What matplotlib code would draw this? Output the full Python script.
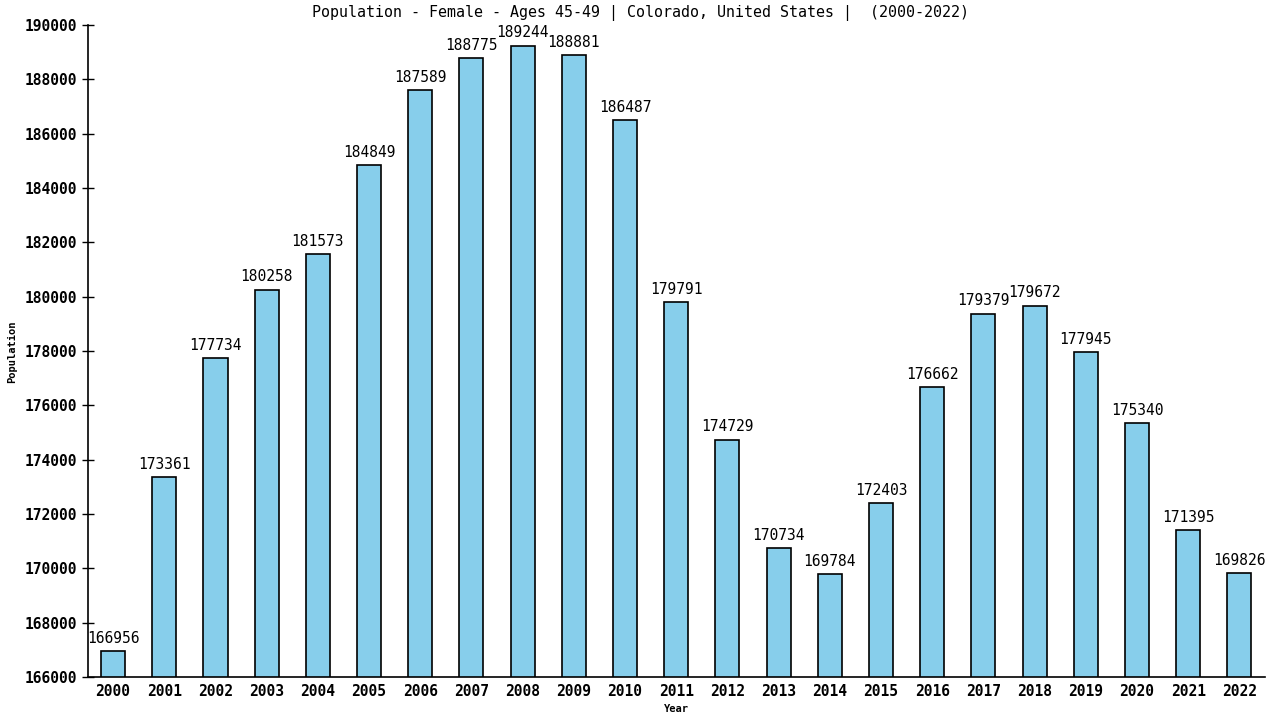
import matplotlib
matplotlib.use("Agg")
import matplotlib.pyplot as plt
import numpy as np

years = [str(y) for y in range(2000, 2023)]
values = [166956, 173361, 177734, 180258, 181573, 184849, 187589, 188775, 189244,
          188881, 186487, 179791, 174729, 170734, 169784, 172403, 176662, 179379,
          179672, 177945, 175340, 171395, 169826]
yticks = list(range(166000, 190001, 2000))

plt.rcParams['font.family'] = ['DejaVu Sans Mono']

fig = plt.figure(figsize=(12.8, 7.2), dpi=100)
ax = fig.add_axes([88/1280, 1-677/720, (1265-88)/1280, (677-25)/720])

x = np.arange(len(years))
ax.bar(x, values, width=0.47, color='#87CEEB', edgecolor='black', linewidth=1.2, zorder=2)
for xi, v in zip(x, values):
    ax.text(xi, v + 200, str(v), ha='center', va='bottom', fontsize=10.5, color='black')

ax.set_ylim(166000, 190000)
ax.set_xlim(-0.49, 22.5)
ax.set_yticks(yticks)
ax.set_yticklabels([str(t) for t in yticks], fontsize=10.5, fontweight='bold')
ax.set_xticks(x)
ax.set_xticklabels(years, fontsize=10.5, fontweight='bold')
ax.tick_params(axis='y', direction='inout', length=8, width=1)
ax.tick_params(axis='x', length=0, pad=5)
for s in ['top', 'right']:
    ax.spines[s].set_visible(False)
for s in ['left', 'bottom']:
    ax.spines[s].set_linewidth(1.2)

fig.text(640/1280, 1-13/720, "Population - Female - Ages 45-49 | Colorado, United States |  (2000-2022)",
         ha='center', va='center', fontsize=10.8)
fig.text(12/1280, 1-352/720, "Population", rotation=90, ha='center', va='center',
         fontsize=7.5, fontweight='bold')
fig.text(676/1280, 1-709/720, "Year", ha='center', va='center', fontsize=7.5, fontweight='bold')

fig.savefig("out.png", dpi=100)
